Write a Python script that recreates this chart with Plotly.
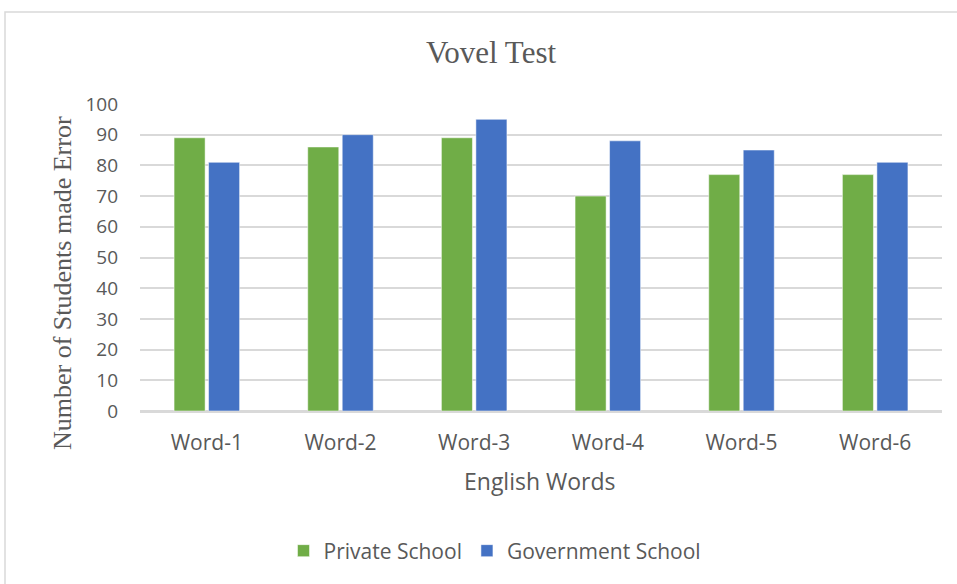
import plotly.graph_objects as go

categories = ["Word-1", "Word-2", "Word-3", "Word-4", "Word-5", "Word-6"]
private_school = [89, 86, 89, 70, 77, 77]
government_school = [81, 90, 95, 88, 85, 81]
y_ticks = list(range(0, 101, 10))

W, H = 957, 584
L, R, T, B = 140, 15, 104, 173
pw, ph = W - L - R, H - T - B

def px_x(x):
    return (x - L) / pw

def px_y(y):
    return (H - B - y) / ph

SANS = "Open Sans, Lato, Liberation Sans, Arial, sans-serif"
SERIF = "Liberation Serif, Times New Roman, serif"

fig = go.Figure()
fig.add_trace(go.Bar(name="Private School", x=categories, y=private_school,
                     marker=dict(color="#70AD47", line=dict(color="#FFFFFF", width=0.5))))
fig.add_trace(go.Bar(name="Government School", x=categories, y=government_school,
                     marker=dict(color="#4472C4", line=dict(color="#FFFFFF", width=0.5))))

fig.update_layout(
    width=W, height=H,
    margin=dict(l=L, r=R, t=T, b=B),
    paper_bgcolor="white", plot_bgcolor="white",
    barmode="group", bargap=0.484, bargroupgap=0.1,
    font=dict(family=SANS, color="#595959"),
    title=dict(text="Vovel Test", x=491 / W, xanchor="center", xref="container",
               y=1 - 52 / H, yanchor="middle", yref="container",
               font=dict(family=SERIF, size=31, color="#595959")),
    legend=dict(orientation="h", x=px_x(495), xanchor="center", y=px_y(551), yanchor="middle",
                font=dict(size=21, color="#595959"), itemwidth=30, traceorder="normal"),
    xaxis=dict(showgrid=False, showline=True, linecolor="#D9D9D9", linewidth=1.5,
               tickfont=dict(size=21, color="#595959"), ticks="", ticklabelstandoff=12),
    yaxis=dict(range=[0, 100], tickvals=y_ticks, showgrid=True, gridcolor="#D9D9D9", gridwidth=1.5,
               zeroline=True, zerolinecolor="#D9D9D9", zerolinewidth=1.5,
               tickfont=dict(size=19, color="#595959"), ticks="", ticklabelstandoff=21),
    shapes=[dict(type="rect", xref="paper", yref="paper",
                 x0=px_x(5), x1=px_x(W + 20), y0=px_y(H + 20), y1=px_y(12),
                 line=dict(color="#D9D9D9", width=1.5), fillcolor="rgba(0,0,0,0)", layer="below")],
    annotations=[
        dict(text="Number of Students made Error", xref="paper", yref="paper",
             x=px_x(62), y=px_y(283), xanchor="center", yanchor="middle", textangle=-90,
             showarrow=False, font=dict(family=SERIF, size=26, color="#595959")),
        dict(text="English Words", xref="paper", yref="paper",
             x=px_x(540), y=px_y(481), xanchor="center", yanchor="middle",
             showarrow=False, font=dict(size=23, color="#595959")),
    ],
)

fig.write_html("out.html")
